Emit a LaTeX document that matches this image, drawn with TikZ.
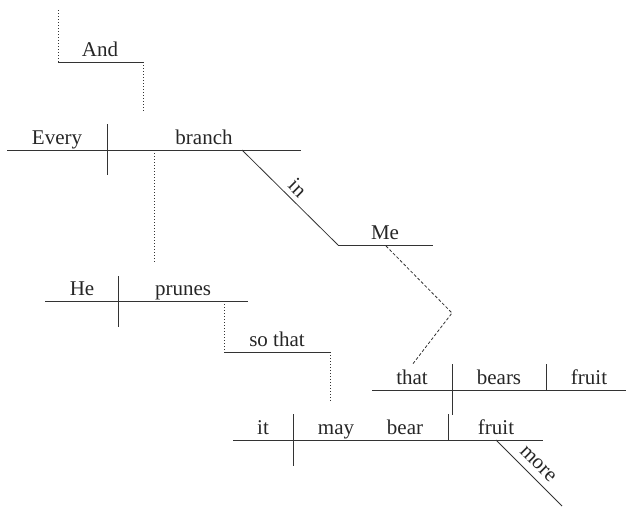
\documentclass[tikz,border=0pt]{standalone}
\usepackage{fontspec}
\setmainfont{Liberation Serif}
\begin{document}
\begin{tikzpicture}[x=1pt,y=-1pt,
  ink/.style={draw=black!80,line width=0.8pt},
  dotline/.style={ink,dash pattern=on 0.9pt off 2.1pt},
  dashline/.style={ink,dash pattern=on 3pt off 2pt},
  word/.style={anchor=base,inner sep=0pt,text=black!85,font=\fontsize{21}{25}\selectfont},
  slantword/.style={sloped,inner sep=0pt,text=black!85,font=\fontsize{21}{25}\selectfont}]
\useasboundingbox (0,0) rectangle (626,506);

% "And" connector
\coordinate (andL) at (58,62);
\coordinate (andR) at (143,62);
\coordinate (andTop) at (58,10);
\coordinate (andDrop) at (143,111);
\draw[dotline] (andTop) -- (andL);
\draw[ink] (andL) -- (andR);
\draw[dotline] (andR) -- (andDrop);
\node[word] (wAnd) at (100,56) {And};

% Main clause: Every branch
\coordinate (m1) at (7,150);
\coordinate (m2) at (301,150);
\coordinate (mDivT) at (107,124);
\coordinate (mDivB) at (107,175);
\draw[ink] (m1) -- (m2);
\draw[ink] (mDivT) -- (mDivB);
\node[word] (wEvery) at (57,144) {Every};
\node[word] (wBranch) at (204,144) {branch};

% in Me
\coordinate (inA) at (242,150);
\coordinate (inB) at (338,245);
\coordinate (meR) at (433,245);
\draw[ink] (inA) -- node[slantword,above=5pt,pos=0.49] (wIn) {in} (inB);
\draw[ink] (inB) -- (meR);
\node[word] (wMe) at (385,239) {Me};

% dotted link to "He prunes"
\coordinate (bDotT) at (154,150);
\coordinate (bDotB) at (154,262);
\draw[dotline] (bDotT) -- (bDotB);

% He prunes
\coordinate (h1) at (45,301);
\coordinate (h2) at (248,301);
\coordinate (hDivT) at (118,276);
\coordinate (hDivB) at (118,327);
\draw[ink] (h1) -- (h2);
\draw[ink] (hDivT) -- (hDivB);
\node[word] (wHe) at (82,295) {He};
\node[word] (wPrunes) at (183,295) {prunes};

% so that
\coordinate (sT) at (224,301);
\coordinate (sL) at (224,352);
\coordinate (sR) at (330,352);
\coordinate (sB) at (330,402);
\draw[dotline] (sT) -- (sL);
\draw[ink] (sL) -- (sR);
\draw[dotline] (sR) -- (sB);
\node[word] (wSoThat) at (277,346) {so that};

% relative clause: that bears fruit
\coordinate (r1) at (372,390);
\coordinate (r2) at (626,390);
\coordinate (rDivT) at (452,364);
\coordinate (rDivB) at (452,415);
\coordinate (rDiv2T) at (546,364);
\coordinate (rDiv2B) at (546,390);
\draw[ink] (r1) -- (r2);
\draw[ink] (rDivT) -- (rDivB);
\draw[ink] (rDiv2T) -- (rDiv2B);
\node[word] (wThat) at (412,384) {that};
\node[word] (wBears) at (499,384) {bears};
\node[word] (wFruitA) at (589,384) {fruit};

% dashed link from Me to that
\coordinate (dA) at (386,246);
\coordinate (dB) at (452,313);
\coordinate (dC) at (412,365);
\draw[dashline] (dA) -- (dB) -- (dC);

% it may bear fruit
\coordinate (t1) at (233,440);
\coordinate (t2) at (543,440);
\coordinate (tDivT) at (293,414);
\coordinate (tDivB) at (293,466);
\coordinate (tDiv2T) at (448,414);
\coordinate (tDiv2B) at (448,440);
\draw[ink] (t1) -- (t2);
\draw[ink] (tDivT) -- (tDivB);
\draw[ink] (tDiv2T) -- (tDiv2B);
\node[word] (wIt) at (263,434) {it};
\node[word] (wMay) at (336,434) {may};
\node[word] (wBear) at (405,434) {bear};
\node[word] (wFruitB) at (496,434) {fruit};

% more
\coordinate (moA) at (496,440);
\coordinate (moB) at (562,506);
\draw[ink] (moA) -- node[slantword,above=7pt,pos=0.5] (wMore) {more} (moB);
\end{tikzpicture}
\end{document}
